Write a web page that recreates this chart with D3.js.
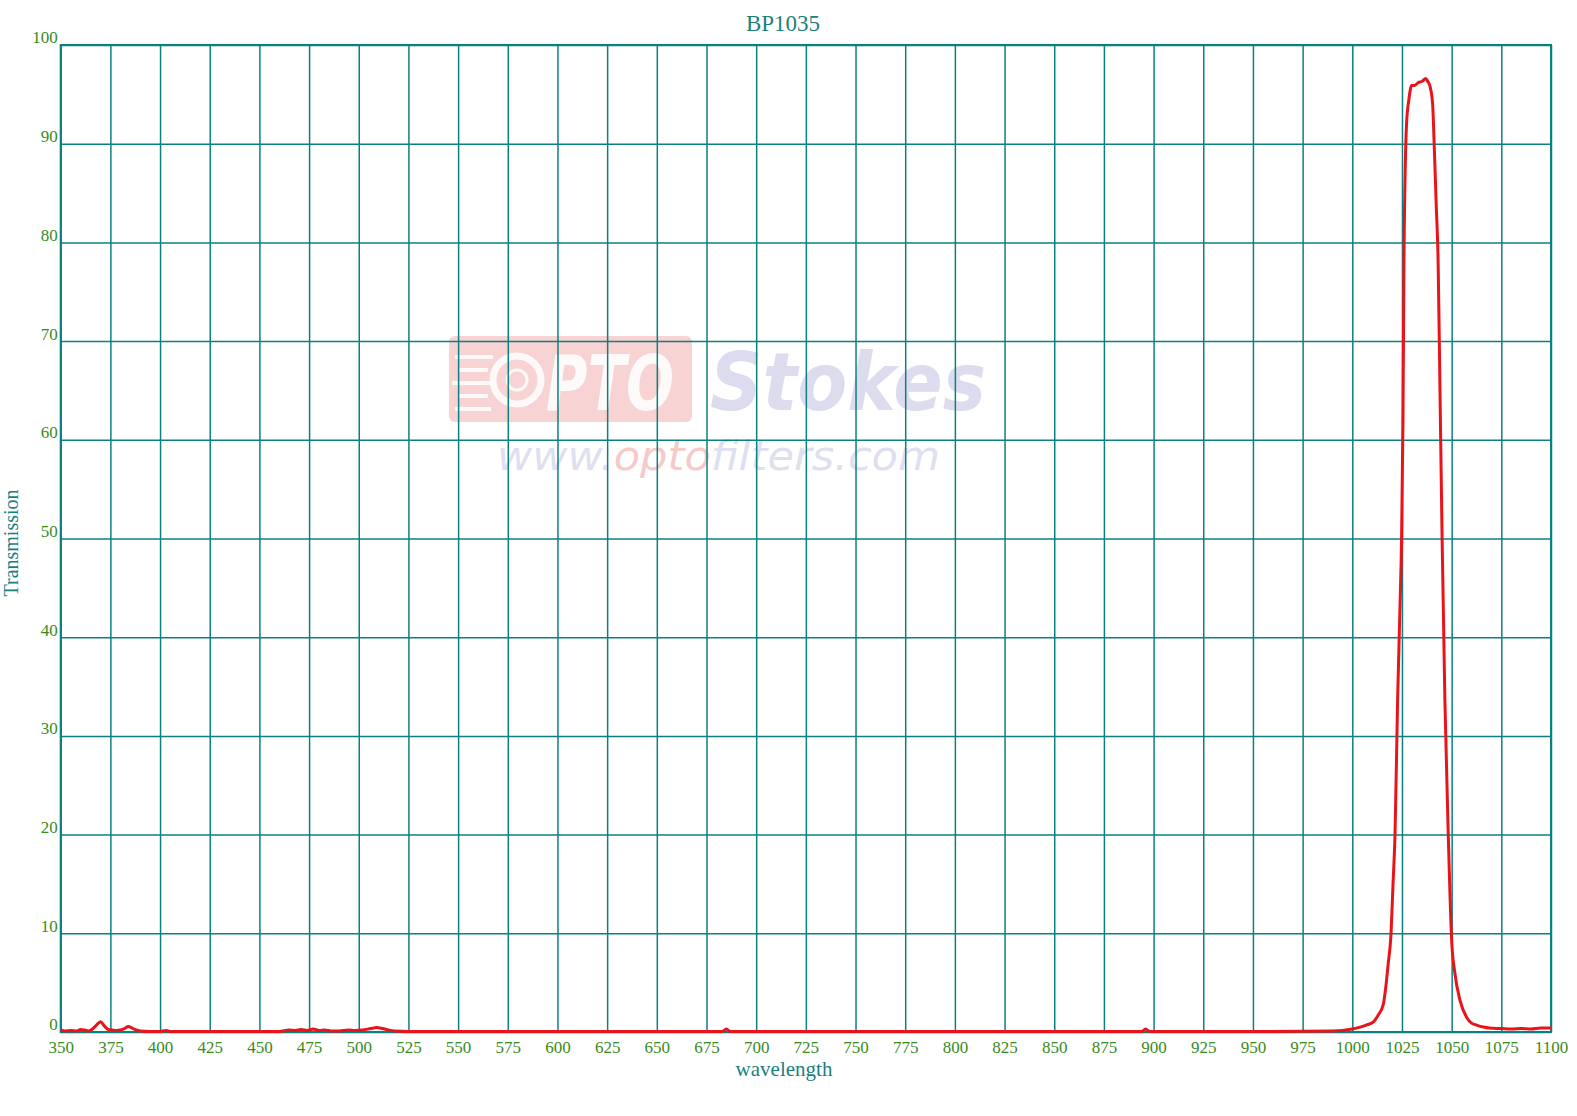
<!DOCTYPE html>
<html>
<head>
<meta charset="utf-8">
<script src="https://cdn.jsdelivr.net/npm/d3@7"></script>
<style>
  html, body { margin: 0; padding: 0; background: #fff; }
  svg { display: block; }
</style>
</head>
<body>
<svg id="chart" width="1577" height="1116"></svg>
<script>
// ---- Data ----
const chartTitle = "BP1035";
const xLabel = "wavelength";
const yLabel = "Transmission";
const xTicks = [350,375,400,425,450,475,500,525,550,575,600,625,650,675,700,725,750,775,800,825,850,875,900,925,950,975,1000,1025,1050,1075,1100];
const yTicks = [0,10,20,30,40,50,60,70,80,90,100];

const wavelength = [
  350,352,355,358,360,362,364,366,368,370,372,374,376,378,380,382,384,386,388,390,395,400,403,405,
  420,440,460,465,468,471,474,477,480,483,486,490,495,498,502,506,509,512,515,518,525,
  550,600,650,683,685,687,700,750,800,850,894,896,898,950,990,995,
  1000,1004,1007,1010.5,1013,1015.6,1017,1018,1019.5,1020.5,1021.5,1022.8,1024,1024.8,1025.5,1026,1026.7,1027.3,
  1028.5,1029.9,1031.5,1033.2,1035,1037,1038,1039,1040.4,1041.2,1042.2,1043.2,1044.2,1045.2,1046.6,1048.3,
  1050,1051.6,1054.2,1057.5,1060,1062.6,1066,1069,1075,1080,1085,1090,1095,1100
];
const transmission = [
  0.2,0.1,0.15,0.1,0.25,0.2,0.1,0.3,0.7,1.05,0.6,0.25,0.2,0.15,0.2,0.35,0.55,0.4,0.2,0.1,0.05,0.05,0.15,0.05,
  0.05,0.05,0.05,0.2,0.15,0.25,0.15,0.3,0.15,0.2,0.1,0.1,0.2,0.15,0.2,0.35,0.45,0.35,0.2,0.1,0.05,
  0.05,0.05,0.05,0.05,0.3,0.05,0.05,0.05,0.05,0.05,0.05,0.3,0.05,0.05,0.1,0.15,
  0.3,0.5,0.7,1.0,1.7,2.8,4.8,6.8,10,15,20,33.6,43,50,62,78,88,92,
  94.5,95.9,95.9,96.2,96.3,96.6,96.3,95.9,94.1,90,84,78,64,50,33.6,20,
  9.3,6,3.2,1.5,0.9,0.7,0.5,0.4,0.35,0.3,0.35,0.3,0.4,0.4
];

// ---- Layout ----
const plot = { left: 60.7, top: 45, right: 1551, bottom: 1032 };
const teal = "#0b8080";
const labelGreen = "#3a8a1e";
const textTeal = "#1a7f80";
const serif = "'Liberation Serif', 'Times New Roman', serif";

const svg = d3.select("#chart");

const x = d3.scaleLinear().domain([350, 1100]).range([plot.left, plot.right]);
const y = d3.scaleLinear().domain([0, 100]).range([plot.bottom, plot.top]);

// ---- Watermark ----
const wm = svg.append("g").attr("class", "watermark");
wm.append("rect")
  .attr("x", 449).attr("y", 336).attr("width", 243).attr("height", 86).attr("rx", 6)
  .attr("fill", "#f6c4c4").attr("opacity", 0.75);
[[455,355,38],[458,368,30],[452,381,40],[458,394,30],[455,407,36]].forEach(s => {
  wm.append("rect").attr("x", s[0]).attr("y", s[1]).attr("width", s[2]).attr("height", 4)
    .attr("fill", "#fff").attr("opacity", 0.85);
});
wm.append("circle").attr("cx", 517).attr("cy", 380).attr("r", 24)
  .attr("fill", "none").attr("stroke", "#fff").attr("stroke-width", 7).attr("opacity", 0.85);
wm.append("circle").attr("cx", 517).attr("cy", 380).attr("r", 10)
  .attr("fill", "none").attr("stroke", "#fff").attr("stroke-width", 3).attr("opacity", 0.85);
wm.append("text")
  .attr("x", 546).attr("y", 410)
  .attr("font-family", "'DejaVu Sans', Arial, sans-serif").attr("font-weight", "bold")
  .attr("font-style", "italic").attr("font-size", 76).attr("fill", "#fff").attr("opacity", 0.9)
  .attr("textLength", 128).attr("lengthAdjust", "spacingAndGlyphs")
  .text("PTO");
wm.append("text")
  .attr("x", 710).attr("y", 410)
  .attr("font-family", "'DejaVu Sans', Arial, sans-serif").attr("font-weight", "bold")
  .attr("font-style", "italic").attr("font-size", 80).attr("fill", "#dcdcee")
  .attr("textLength", 276).attr("lengthAdjust", "spacingAndGlyphs")
  .text("Stokes");
const url = wm.append("text")
  .attr("x", 497).attr("y", 470)
  .attr("font-family", "'DejaVu Sans', Arial, sans-serif")
  .attr("font-style", "italic").attr("font-size", 40)
  .attr("textLength", 443).attr("lengthAdjust", "spacingAndGlyphs");
url.append("tspan").attr("fill", "#dedff0").text("www.");
url.append("tspan").attr("fill", "#f6caca").text("opto");
url.append("tspan").attr("fill", "#dedff0").text("filters.com");

// ---- Axes with grid ----
const gx = svg.append("g")
  .attr("transform", `translate(0,${plot.bottom})`)
  .call(d3.axisBottom(x).tickValues(xTicks).tickFormat(d3.format("d"))
    .tickSize(-(plot.bottom - plot.top)).tickPadding(9));
const gy = svg.append("g")
  .attr("transform", `translate(${plot.left},0)`)
  .call(d3.axisLeft(y).tickValues(yTicks).tickFormat(d3.format("d"))
    .tickSize(-(plot.right - plot.left)).tickPadding(3));

[gx, gy].forEach(g => {
  g.select(".domain").remove();
  g.selectAll(".tick line").attr("stroke", teal).attr("stroke-width", 1.5);
  g.selectAll(".tick text")
    .attr("fill", labelGreen)
    .attr("font-family", serif)
    .attr("font-size", 17);
});
gy.selectAll(".tick text").attr("dy", "-0.12em");

// frame
svg.append("rect")
  .attr("x", plot.left).attr("y", plot.top)
  .attr("width", plot.right - plot.left).attr("height", plot.bottom - plot.top)
  .attr("fill", "none").attr("stroke", teal).attr("stroke-width", 2);

// ---- Curve ----
const line = d3.line()
  .x((d, i) => x(wavelength[i]))
  .y(d => y(d))
  .curve(d3.curveMonotoneX);

svg.append("path")
  .datum(transmission)
  .attr("d", line)
  .attr("fill", "none")
  .attr("stroke", "#e8141a")
  .attr("stroke-width", 3)
  .attr("stroke-linejoin", "round");

// ---- Titles ----
svg.append("text")
  .attr("x", 783).attr("y", 31)
  .attr("text-anchor", "middle")
  .attr("font-family", serif).attr("font-size", 23)
  .attr("fill", textTeal)
  .text(chartTitle);

svg.append("text")
  .attr("x", 784).attr("y", 1076)
  .attr("text-anchor", "middle")
  .attr("font-family", serif).attr("font-size", 21)
  .attr("fill", textTeal)
  .text(xLabel);

svg.append("text")
  .attr("transform", `translate(18,543) rotate(-90)`)
  .attr("text-anchor", "middle")
  .attr("font-family", serif).attr("font-size", 20)
  .attr("fill", textTeal)
  .text(yLabel);
</script>
</body>
</html>
